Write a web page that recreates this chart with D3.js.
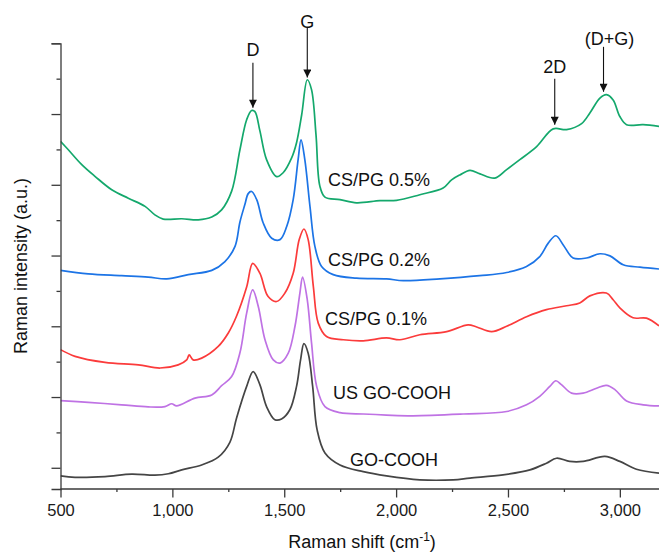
<!DOCTYPE html>
<html>
<head>
<meta charset="utf-8">
<script src="https://cdn.jsdelivr.net/npm/d3@7/dist/d3.min.js"></script>
<style>
  body { margin: 0; background: #fff; }
  svg { display: block; font-family: Arial, "Liberation Sans", sans-serif; }
  .axis path, .axis line { stroke: #3a3a3a; stroke-width: 1.3; }
  .axis text { fill: #1a1a1a; font-size: 16.5px; }
  .spectrum { fill: none; stroke-width: 1.7; stroke-linejoin: round; }
</style>
</head>
<body>
<script>
// Raman spectra: [wavenumber (cm-1), intensity (a.u., offset)]
const csPg05 = [
  [500, 9.23], [535, 8.99], [595, 8.57], [654, 8.24], [729, 7.86], [803, 7.62], [878, 7.39],
  [922, 7.15], [959, 7.03], [1042, 7.04], [1116, 7.01], [1176, 7.09], [1220, 7.29], [1265, 7.82],
  [1302, 8.99], [1332, 9.84], [1354, 10.10], [1369, 10.07], [1391, 9.53], [1421, 8.71],
  [1466, 8.23], [1495, 8.34], [1533, 8.76], [1555, 9.19], [1578, 9.98], [1603, 10.97],
  [1622, 10.69], [1642, 9.41], [1659, 7.97], [1682, 7.65], [1749, 7.58], [1823, 7.49],
  [1928, 7.55], [2002, 7.56], [2106, 7.72], [2210, 7.91], [2248, 8.14], [2285, 8.28],
  [2330, 8.41], [2375, 8.31], [2441, 8.19], [2494, 8.43], [2553, 8.71], [2628, 9.08],
  [2702, 9.58], [2762, 9.56], [2829, 9.73], [2866, 10.03], [2911, 10.45], [2940, 10.55],
  [2970, 10.40], [3000, 9.93], [3030, 9.70], [3104, 9.70], [3175, 9.65]
];
const csPg02 = [
  [500, 5.58], [624, 5.48], [773, 5.43], [892, 5.39], [975, 5.34], [1071, 5.46], [1176, 5.58],
  [1235, 5.83], [1280, 6.26], [1302, 6.95], [1324, 7.44], [1339, 7.75], [1354, 7.81],
  [1377, 7.58], [1406, 6.92], [1444, 6.49], [1481, 6.45], [1511, 6.82], [1540, 7.58],
  [1562, 8.71], [1575, 9.27], [1592, 8.71], [1615, 7.39], [1637, 6.26], [1667, 5.69],
  [1719, 5.46], [1823, 5.36], [1957, 5.34], [2032, 5.29], [2196, 5.34], [2374, 5.43],
  [2494, 5.52], [2583, 5.69], [2642, 5.97], [2680, 6.35], [2714, 6.56], [2747, 6.30],
  [2791, 5.93], [2851, 5.93], [2911, 6.05], [2956, 5.99], [3015, 5.74], [3090, 5.67], [3175, 5.62]
];
const csPg01 = [
  [500, 3.34], [565, 3.15], [699, 2.98], [848, 2.91], [945, 2.82], [1026, 2.91], [1064, 3.05],
  [1075, 3.19], [1093, 3.05], [1131, 3.10], [1205, 3.43], [1250, 3.81], [1287, 4.29],
  [1332, 5.11], [1359, 5.78], [1391, 5.50], [1428, 4.84], [1466, 4.70], [1503, 4.94],
  [1540, 5.50], [1567, 6.45], [1588, 6.75], [1607, 6.45], [1630, 5.13], [1652, 4.09],
  [1689, 3.71], [1764, 3.62], [1853, 3.59], [1957, 3.67], [2017, 3.62], [2106, 3.76],
  [2226, 3.85], [2322, 4.04], [2360, 3.98], [2427, 3.85], [2494, 4.00], [2583, 4.27],
  [2672, 4.47], [2762, 4.58], [2821, 4.66], [2866, 4.86], [2940, 4.94], [2970, 4.75],
  [3000, 4.52], [3059, 4.24], [3119, 4.23], [3175, 4.01]
];
const usGoCooh = [
  [500, 1.90], [624, 1.85], [773, 1.78], [892, 1.72], [967, 1.73], [997, 1.81], [1019, 1.75],
  [1101, 1.97], [1176, 2.06], [1220, 2.32], [1265, 2.58], [1302, 3.25], [1332, 4.37],
  [1359, 5.03], [1384, 4.56], [1414, 3.62], [1451, 3.05], [1481, 2.96], [1518, 3.24],
  [1548, 4.00], [1570, 4.94], [1582, 5.39], [1603, 4.75], [1622, 3.53], [1645, 2.30],
  [1682, 1.73], [1749, 1.56], [1853, 1.52], [1957, 1.49], [2076, 1.47], [2300, 1.52],
  [2494, 1.59], [2583, 1.78], [2642, 2.02], [2687, 2.30], [2714, 2.46], [2739, 2.35],
  [2784, 2.11], [2836, 2.11], [2896, 2.25], [2940, 2.33], [2978, 2.21], [3030, 1.89],
  [3104, 1.78], [3175, 1.75]
];
const goCooh = [
  [500, -0.23], [565, -0.27], [699, -0.25], [818, -0.18], [922, -0.21], [982, -0.17],
  [1042, -0.06], [1131, 0.08], [1205, 0.30], [1257, 0.72], [1287, 1.41], [1332, 2.30],
  [1361, 2.72], [1391, 2.35], [1421, 1.73], [1458, 1.36], [1488, 1.38], [1525, 1.64],
  [1555, 2.30], [1573, 3.05], [1588, 3.51], [1607, 3.24], [1627, 2.30], [1647, 1.07],
  [1682, 0.42], [1749, 0.08], [1853, -0.11], [1957, -0.23], [2106, -0.34], [2255, -0.34],
  [2330, -0.29], [2478, -0.20], [2598, -0.06], [2672, 0.13], [2717, 0.27], [2776, 0.18],
  [2836, 0.18], [2933, 0.32], [3000, 0.18], [3074, -0.04], [3175, -0.15]
];

const seriesNames = ['CS/PG 0.5%', 'CS/PG 0.2%', 'CS/PG 0.1%', 'US GO-COOH', 'GO-COOH'];
const seriesData = [csPg05, csPg02, csPg01, usGoCooh, goCooh];
const seriesColors = ['#14a86c', '#1c74e6', '#fb3b3b', '#bf72e4', '#454545'];
// where each curve label starts: [wavenumber, intensity]
const labelAnchors = [[1696, 8.14], [1696, 5.88], [1682, 4.21], [1718, 2.13], [1794, 0.23]];

// band assignments with arrow: label, wavenumber, label level, arrow top, arrow tip
const bandNames = ['D', 'G', '2D', '(D+G)'];
const bandPositions = [1360, 1603, 2709, 2927];
const bandLabelLevels = [11.82, 12.61, 11.34, 12.13];
const bandArrowTops = [11.45, 12.44, 11.0, 11.9];
const bandArrowTips = [10.18, 11.03, 9.7, 10.63];

const xTicks = [500, 1000, 1500, 2000, 2500, 3000];

const width = 659, height = 552;
const margin = {top: 43.3, right: 0, bottom: 63, left: 60.5};

const svg = d3.select('body').append('svg')
    .attr('width', width)
    .attr('height', height);

const x = d3.scaleLinear()
    .domain([500, 3175])
    .range([margin.left, width - margin.right]);
const y = d3.scaleLinear()
    .domain([-0.6, 12])
    .range([height - margin.bottom, margin.top]);

// arrow head
svg.append('defs').append('marker')
    .attr('id', 'arrow')
    .attr('viewBox', '0 0 10 10')
    .attr('refX', 10)
    .attr('refY', 5)
    .attr('markerUnits', 'userSpaceOnUse')
    .attr('markerWidth', 9)
    .attr('markerHeight', 8)
    .attr('orient', 'auto')
    .append('path')
    .attr('d', 'M 0 0 L 10 5 L 0 10 z')
    .attr('fill', '#111');

svg.append('clipPath').attr('id', 'plot-clip')
    .append('rect')
    .attr('x', margin.left)
    .attr('y', 0)
    .attr('width', width - margin.left)
    .attr('height', height - margin.bottom);

// spectra
const line = d3.line()
    .x(d => x(d[0]))
    .y(d => y(d[1]))
    .curve(d3.curveCatmullRom.alpha(0.5));

svg.append('g')
    .attr('clip-path', 'url(#plot-clip)')
    .selectAll('path')
    .data(seriesData)
    .enter()
    .append('path')
    .attr('class', 'spectrum')
    .attr('stroke', (d, i) => seriesColors[i])
    .attr('d', line);

// x axis: major labelled ticks plus unlabelled minor ones
const xAxisG = svg.append('g')
    .attr('class', 'axis')
    .attr('transform', `translate(0,${height - margin.bottom})`);
xAxisG.call(d3.axisBottom(x)
    .tickValues(d3.range(750, 3175, 500))
    .tickSize(3)
    .tickFormat(''));
xAxisG.append('g').call(d3.axisBottom(x)
    .tickValues(xTicks)
    .tickSize(8.5)
    .tickPadding(7)
    .tickFormat(d3.format(',')));
xAxisG.selectAll('.domain').attr('d', `M${margin.left},0H${width}`);
xAxisG.select('g .domain').remove();

// y axis: ticks only, no numbers
const yAxisG = svg.append('g')
    .attr('class', 'axis')
    .attr('transform', `translate(${margin.left},0)`);
yAxisG.call(d3.axisLeft(y)
    .tickValues(d3.range(1, 12, 2))
    .tickSize(4)
    .tickFormat(''));
yAxisG.append('g').call(d3.axisLeft(y)
    .tickValues(d3.range(0, 13, 2))
    .tickSize(9)
    .tickFormat(''));
yAxisG.select('.domain').attr('d', `M0,${y(12)}V${y(-0.6)}`);
yAxisG.select('g .domain').remove();

// axis titles
const xTitle = svg.append('text')
    .attr('x', 362)
    .attr('y', 548)
    .attr('text-anchor', 'middle')
    .attr('font-size', 18)
    .attr('fill', '#111');
xTitle.append('tspan').text('Raman shift (cm');
xTitle.append('tspan').text('-1').attr('font-size', 12).attr('dy', -7);
xTitle.append('tspan').text(')').attr('dy', 7);

svg.append('text')
    .attr('transform', `translate(27,${266}) rotate(-90)`)
    .attr('text-anchor', 'middle')
    .attr('font-size', 18)
    .attr('fill', '#111')
    .text('Raman intensity (a.u.)');

// curve labels
svg.append('g')
    .selectAll('text')
    .data(seriesNames)
    .enter()
    .append('text')
    .attr('x', (d, i) => x(labelAnchors[i][0]))
    .attr('y', (d, i) => y(labelAnchors[i][1]))
    .attr('dy', '0.36em')
    .attr('font-size', 18)
    .attr('fill', '#111')
    .text(d => d);

// band arrows
const bands = svg.append('g');
bandNames.forEach((name, i) => {
    const bx = x(bandPositions[i]);
    bands.append('line')
        .attr('x1', bx).attr('x2', bx)
        .attr('y1', y(bandArrowTops[i]))
        .attr('y2', y(bandArrowTips[i]))
        .attr('stroke', '#111')
        .attr('stroke-width', 1.1)
        .attr('marker-end', 'url(#arrow)');
    bands.append('text')
        .attr('x', name === '(D+G)' ? bx + 6 : bx)
        .attr('y', y(bandLabelLevels[i]))
        .attr('dy', '0.36em')
        .attr('text-anchor', 'middle')
        .attr('font-size', 18)
        .attr('fill', '#111')
        .text(name);
});
</script>
</body>
</html>
